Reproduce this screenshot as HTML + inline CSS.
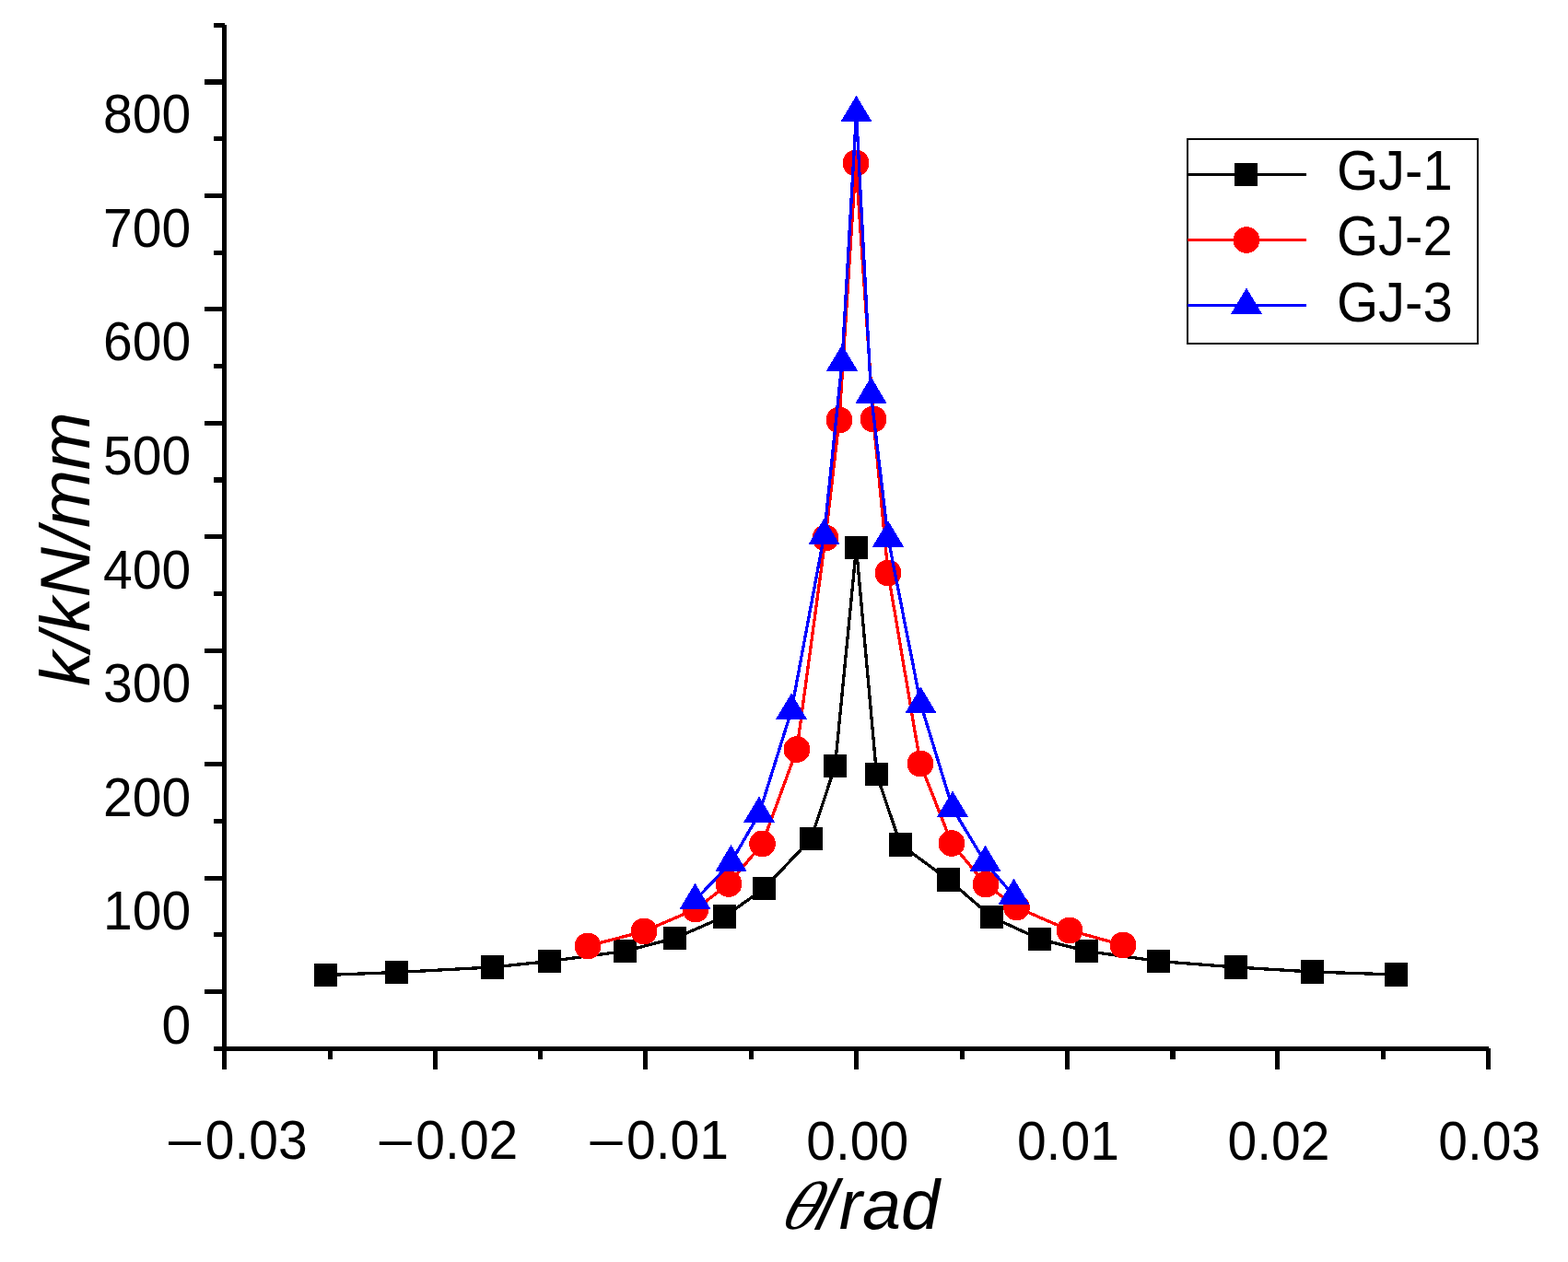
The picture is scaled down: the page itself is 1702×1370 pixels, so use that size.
<!DOCTYPE html>
<html lang="en"><head><meta charset="utf-8"><title>k - θ curves</title>
<style>
html,body{margin:0;padding:0;background:#fff;}
body{width:1702px;height:1370px;overflow:hidden;}
svg{display:block;}
text{font-family:"Liberation Sans",sans-serif;fill:#000;}
.tick{font-size:57px;}
.mn{font-family:"Liberation Serif",serif;font-size:75.5px;}
.title{font-size:75.5px;font-style:italic;}
.theta{font-family:"Liberation Serif",serif;font-size:74px;}
.leg{font-size:58px;}
</style></head><body>
<svg width="1702" height="1370" viewBox="0 0 1702 1370">
<rect width="1702" height="1370" fill="#fff"/>
<g fill="#000" shape-rendering="crispEdges">
<rect x="241" y="27" width="5" height="1134"/>
<rect x="232" y="1136" width="1384" height="5"/>
<rect x="222" y="1074" width="20" height="5"/>
<rect x="232" y="1012" width="10" height="5"/>
<rect x="222" y="951" width="20" height="5"/>
<rect x="232" y="889" width="10" height="5"/>
<rect x="222" y="827" width="20" height="5"/>
<rect x="232" y="765" width="10" height="5"/>
<rect x="222" y="704" width="20" height="5"/>
<rect x="232" y="642" width="10" height="5"/>
<rect x="222" y="580" width="20" height="5"/>
<rect x="232" y="518" width="10" height="6"/>
<rect x="222" y="457" width="20" height="5"/>
<rect x="232" y="395" width="10" height="5"/>
<rect x="222" y="333" width="20" height="5"/>
<rect x="232" y="272" width="10" height="5"/>
<rect x="222" y="210" width="20" height="5"/>
<rect x="232" y="148" width="10" height="5"/>
<rect x="222" y="86" width="20" height="6"/>
<rect x="232" y="25" width="12" height="5"/>
<rect x="356" y="1140" width="5" height="10"/>
<rect x="470" y="1138" width="5" height="23"/>
<rect x="584" y="1140" width="5" height="10"/>
<rect x="698" y="1138" width="5" height="23"/>
<rect x="813" y="1140" width="5" height="10"/>
<rect x="927" y="1138" width="5" height="23"/>
<rect x="1042" y="1140" width="5" height="10"/>
<rect x="1156" y="1138" width="5" height="23"/>
<rect x="1270" y="1140" width="6" height="10"/>
<rect x="1384" y="1138" width="5" height="23"/>
<rect x="1499" y="1140" width="5" height="10"/>
<rect x="1613" y="1138" width="5" height="23"/>
</g>
<g class="tick" text-anchor="end">
<text transform="translate(207.2 1132.86) scale(1.0 1.03)">0</text>
<text transform="translate(207.2 1009.29) scale(1.0 1.03)">100</text>
<text transform="translate(207.2 885.72) scale(1.0 1.03)">200</text>
<text transform="translate(207.2 762.15) scale(1.0 1.03)">300</text>
<text transform="translate(207.2 638.58) scale(1.0 1.03)">400</text>
<text transform="translate(207.2 515.01) scale(1.0 1.03)">500</text>
<text transform="translate(207.2 391.44) scale(1.0 1.03)">600</text>
<text transform="translate(207.2 267.87) scale(1.0 1.03)">700</text>
<text transform="translate(207.2 144.3) scale(1.0 1.03)">800</text>
</g>
<g class="tick">
<text transform="translate(179.32 1257.6) scale(1 1.03)"><tspan class="mn" dy="8.8">−</tspan><tspan dx="0.79" dy="-8.8">0.03</tspan></text>
<text transform="translate(407.99 1257.6) scale(1 1.03)"><tspan class="mn" dy="8.8">−</tspan><tspan dx="0.79" dy="-8.8">0.02</tspan></text>
<text transform="translate(636.66 1257.6) scale(1 1.03)"><tspan class="mn" dy="8.8">−</tspan><tspan dx="0.79" dy="-8.8">0.01</tspan></text>
<text text-anchor="middle" transform="translate(930.7 1258.6) scale(1.0 1.03)">0.00</text>
<text text-anchor="middle" transform="translate(1159.37 1258.6) scale(1.0 1.03)">0.01</text>
<text text-anchor="middle" transform="translate(1388.03 1258.6) scale(1.0 1.03)">0.02</text>
<text text-anchor="middle" transform="translate(1616.7 1258.6) scale(1.0 1.03)">0.03</text>
</g>
<text class="title" transform="translate(97.2 745.1) rotate(-90)">k/kN/mm</text>
<text class="theta" transform="translate(842.3 1334) skewX(-29) scale(1.07 1)">θ</text>
<text class="title" x="888" y="1333.8">/<tspan dx="1.8">rad</tspan></text>
<g shape-rendering="crispEdges">
<polyline fill="none" stroke="#000" stroke-width="3.3" stroke-linejoin="miter" points="353.5,1058.5 430.5,1055.5 534.5,1050 596.5,1043.5 678.5,1032.5 732.5,1018.5 786.5,995 829.5,964.5 880.5,910.5 906.5,831.5 929.5,594.5 951.5,840.5 977.5,917 1029.5,955 1076.5,995.5 1128.5,1019.5 1179.5,1032.5 1257.5,1043.5 1341.5,1050 1424.5,1055 1515.5,1058"/>
<rect x="341" y="1046" width="25" height="25" fill="#000"/>
<rect x="418" y="1043" width="25" height="25" fill="#000"/>
<rect x="522" y="1037" width="25" height="26" fill="#000"/>
<rect x="584" y="1031" width="25" height="25" fill="#000"/>
<rect x="666" y="1020" width="25" height="25" fill="#000"/>
<rect x="720" y="1006" width="25" height="25" fill="#000"/>
<rect x="774" y="982" width="25" height="26" fill="#000"/>
<rect x="817" y="952" width="25" height="25" fill="#000"/>
<rect x="868" y="898" width="25" height="25" fill="#000"/>
<rect x="894" y="819" width="25" height="25" fill="#000"/>
<rect x="917" y="582" width="25" height="25" fill="#000"/>
<rect x="939" y="828" width="25" height="25" fill="#000"/>
<rect x="965" y="904" width="25" height="26" fill="#000"/>
<rect x="1017" y="942" width="25" height="26" fill="#000"/>
<rect x="1064" y="983" width="25" height="25" fill="#000"/>
<rect x="1116" y="1007" width="25" height="25" fill="#000"/>
<rect x="1167" y="1020" width="25" height="25" fill="#000"/>
<rect x="1245" y="1031" width="25" height="25" fill="#000"/>
<rect x="1329" y="1037" width="25" height="26" fill="#000"/>
<rect x="1412" y="1042" width="25" height="26" fill="#000"/>
<rect x="1503" y="1045" width="25" height="26" fill="#000"/>
</g>
<g shape-rendering="crispEdges">
<polyline fill="none" stroke="#f00" stroke-width="3.3" stroke-linejoin="miter" points="638,1027 699,1011 755,987 791,959.5 827.5,916 865,813.5 896,584 911,456 929,177 948,455 964,622 999,829 1033,915.5 1070,960 1103.5,985 1161,1010 1219,1026"/>
<circle cx="638" cy="1027" r="14.4" fill="#f00"/>
<circle cx="699" cy="1011" r="14.4" fill="#f00"/>
<circle cx="755" cy="987" r="14.4" fill="#f00"/>
<circle cx="791" cy="959.5" r="14.4" fill="#f00"/>
<circle cx="827.5" cy="916" r="14.4" fill="#f00"/>
<circle cx="865" cy="813.5" r="14.4" fill="#f00"/>
<circle cx="896" cy="584" r="14.4" fill="#f00"/>
<circle cx="911" cy="456" r="14.4" fill="#f00"/>
<circle cx="929" cy="177" r="14.4" fill="#f00"/>
<circle cx="948" cy="455" r="14.4" fill="#f00"/>
<circle cx="964" cy="622" r="14.4" fill="#f00"/>
<circle cx="999" cy="829" r="14.4" fill="#f00"/>
<circle cx="1033" cy="915.5" r="14.4" fill="#f00"/>
<circle cx="1070" cy="960" r="14.4" fill="#f00"/>
<circle cx="1103.5" cy="985" r="14.4" fill="#f00"/>
<circle cx="1161" cy="1010" r="14.4" fill="#f00"/>
<circle cx="1219" cy="1026" r="14.4" fill="#f00"/>
</g>
<g shape-rendering="crispEdges">
<polyline fill="none" stroke="#00f" stroke-width="3.3" stroke-linejoin="miter" points="754.5,977.5 793.5,936.1 824,883.5 859,771.5 894.5,581.5 914,393.1 929.5,122.5 945.5,428.1 964,584.1 999.5,764.5 1034,877.5 1069.5,936.5 1100.5,972.5"/>
<polygon fill="#00f" points="754.5,958.5 737.5,987 771.5,987"/>
<polygon fill="#00f" points="793.5,917.1 776.5,945.6 810.5,945.6"/>
<polygon fill="#00f" points="824,864.5 807,893 841,893"/>
<polygon fill="#00f" points="859,752.5 842,781 876,781"/>
<polygon fill="#00f" points="894.5,562.5 877.5,591 911.5,591"/>
<polygon fill="#00f" points="914,374.1 897,402.6 931,402.6"/>
<polygon fill="#00f" points="929.5,103.5 912.5,132 946.5,132"/>
<polygon fill="#00f" points="945.5,409.1 928.5,437.6 962.5,437.6"/>
<polygon fill="#00f" points="964,565.1 947,593.6 981,593.6"/>
<polygon fill="#00f" points="999.5,745.5 982.5,774 1016.5,774"/>
<polygon fill="#00f" points="1034,858.5 1017,887 1051,887"/>
<polygon fill="#00f" points="1069.5,917.5 1052.5,946 1086.5,946"/>
<polygon fill="#00f" points="1100.5,953.5 1083.5,982 1117.5,982"/>
</g>
<rect x="1289" y="151" width="315" height="222" fill="#fff" stroke="#000" stroke-width="2" shape-rendering="crispEdges"/>
<g shape-rendering="crispEdges">
<rect x="1289" y="188" width="129" height="3" fill="#000"/>
<rect x="1340" y="177" width="25" height="25" fill="#000"/>
<rect x="1289" y="259" width="129" height="3" fill="#f00"/>
<rect x="1289" y="330" width="129" height="3" fill="#00f"/>
</g>
<circle cx="1353" cy="260.5" r="14.4" fill="#f00" shape-rendering="crispEdges"/>
<polygon fill="#00f" points="1353,312.5 1336,341 1370,341" shape-rendering="crispEdges"/>
<g class="leg">
<text transform="translate(1451 205.6) scale(1.0 1.06)">GJ-1</text>
<text transform="translate(1451 277.3) scale(1.0 1.06)">GJ-2</text>
<text transform="translate(1451 349) scale(1.0 1.06)">GJ-3</text>
</g>
</svg>
</body></html>
